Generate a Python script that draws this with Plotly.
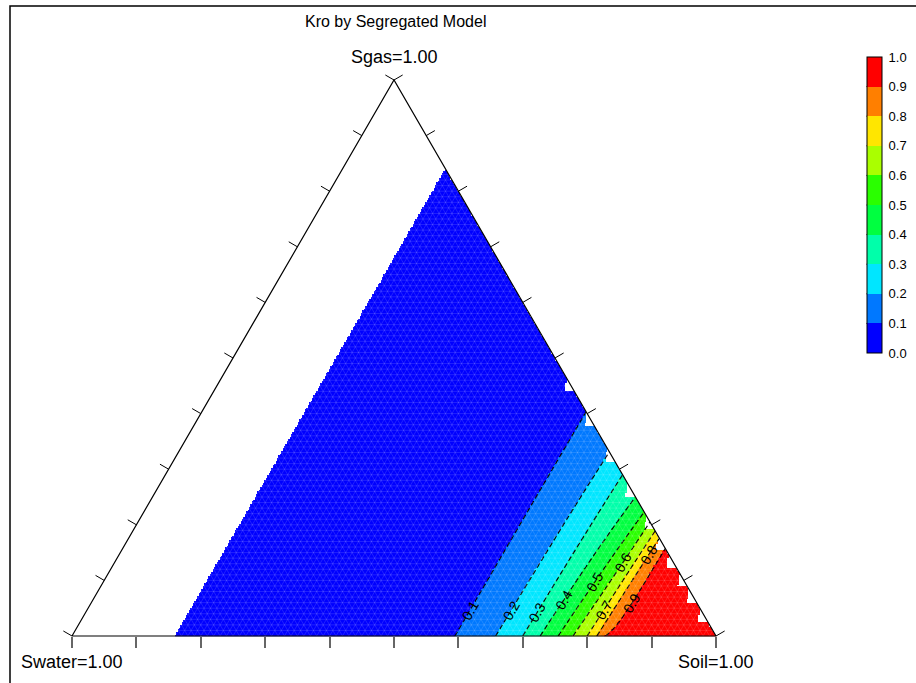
import numpy as np
import plotly.graph_objects as go

TITLE = "Kro by Segregated Model"
LABEL_WATER = "Swater=1.00"
LABEL_OIL = "Soil=1.00"
LABEL_GAS = "Sgas=1.00"

# Oil relative permeability, oil-water system (Sg = 0): Soil -> Krow
SOIL_OW = [0.16, 0.40, 0.595, 0.658, 0.700, 0.727, 0.755, 0.778, 0.800, 0.815, 0.828, 1.00]
KROW = [0.00, 0.00, 0.10, 0.20, 0.30, 0.40, 0.50, 0.60, 0.70, 0.80, 0.90, 1.00]

# Oil relative permeability, oil-gas system (Sw = 0): Soil -> Krog
SOIL_OG = [0.16, 0.40, 0.597, 0.669, 0.710, 0.750, 0.777, 0.795, 0.811, 0.824, 0.842, 1.00]
KROG = [0.00, 0.00, 0.10, 0.20, 0.30, 0.40, 0.50, 0.60, 0.70, 0.80, 0.90, 1.00]

# lowest oil saturation carried in the saturation table
SOIL_MIN = 0.16

# contour levels and colour bands
LEVELS = [0.1, 0.2, 0.3, 0.4, 0.5, 0.6, 0.7, 0.8, 0.9]
BAND_COLORS = ["#0000ff", "#0078ff", "#00e6ff", "#00ffaa", "#00ff40",
               "#2aff00", "#aaff00", "#ffe600", "#ff7f00", "#ff0000"]
CBAR_TICKS = [0.0, 0.1, 0.2, 0.3, 0.4, 0.5, 0.6, 0.7, 0.8, 0.9, 1.0]
AXIS_TICKS = [0.0, 0.1, 0.2, 0.3, 0.4, 0.5, 0.6, 0.7, 0.8, 0.9, 1.0]

# gas saturation at which each contour label sits
LABEL_SG = [0.047, 0.047, 0.043, 0.065, 0.097, 0.133, 0.047, 0.146, 0.059]

# uncovered triangles of the triangulation along the Sw = 0 side (base Sg)
EDGE_GAPS_SG = [0.439, 0.376, 0.313, 0.250, 0.191, 0.155, 0.122, 0.088, 0.059, 0.025]
GAP_HEIGHT = 0.024
GAP_DEPTH = 0.015

FONT = "Liberation Sans, Arial, sans-serif"
W, H = 916, 683
# pixel placement of the triangle: Swater vertex, Soil vertex, apex
PX_LEFT, PX_RIGHT, PX_BASE, PX_APEX = 72.0, 716.0, 636.0, 80.0
SX = PX_RIGHT - PX_LEFT          # px per unit of x
SY = PX_BASE - PX_APEX           # px per unit of Sg
# colour bar box in pixels
CB_X0, CB_X1, CB_TOP, CB_BOT = 866.5, 881.5, 57.0, 353.0


def to_xy(so, sg):
    """Ternary (Soil, Sgas) -> plot coordinates."""
    return so + 0.5 * sg, sg


def kro_segregated(so, sg, sw):
    krow = np.interp(so, SOIL_OW, KROW)
    krog = np.interp(so, SOIL_OG, KROG)
    den = sg + sw
    safe = np.where(den > 1e-12, den, 1.0)
    return np.where(den > 1e-12, (sg * krog + sw * krow) / safe, 1.0)


# ---- grid in plot coordinates ----
NX, NY = 461, 400
xs = np.linspace(0.0, 1.0, NX)
ys = np.linspace(0.0, 1.0, NY)
X, Y = np.meshgrid(xs, ys)
SG = Y
SO = X - 0.5 * Y
SW = 1.0 - SO - SG

z_full = kro_segregated(np.clip(SO, 0, 1), np.clip(SG, 0, 1), np.clip(SW, 0, 1))

gap = np.zeros_like(SG)
for b in EDGE_GAPS_SG:
    inrow = (SG >= b) & (SG < b + GAP_HEIGHT)
    gap = np.where(inrow, GAP_DEPTH * (1 - (SG - b) / GAP_HEIGHT), gap)
inside = (SO >= SOIL_MIN) & (SW >= gap) & (SG >= 0)
z_fill = np.where(inside, z_full, np.nan)

colorscale = []
for i, c in enumerate(BAND_COLORS):
    colorscale.append([i / 10, c])
    colorscale.append([(i + 1) / 10, c])

fig = go.Figure()

fig.add_trace(go.Heatmap(
    x=xs, y=ys, z=z_fill, zmin=0, zmax=1, colorscale=colorscale,
    hoverinfo="skip",
    colorbar=dict(
        x=CB_X0 / W, xanchor="left", y=1 - (CB_TOP + CB_BOT) / 2 / H, yanchor="middle",
        thickness=CB_X1 - CB_X0, thicknessmode="pixels",
        len=CB_BOT - CB_TOP, lenmode="pixels",
        xpad=0, ypad=0, outlinewidth=1, outlinecolor="black",
        tickmode="array", tickvals=CBAR_TICKS,
        ticktext=[f"{v:.1f}" for v in CBAR_TICKS],
        ticks="outside", ticklen=4, tickcolor="rgba(0,0,0,0)",
        tickfont=dict(family=FONT, size=13, color="black"),
    ),
))

# faint triangulation mesh over the filled area
step = 0.01
mx, my = [], []
for g in np.arange(0, 1 - SOIL_MIN, step):       # constant Sgas
    for so, sg in ((SOIL_MIN, g), (1 - g, g)):
        x, y = to_xy(so, sg); mx.append(x); my.append(y)
    mx.append(None); my.append(None)
for o in np.arange(SOIL_MIN, 1.0, step):          # constant Soil
    for so, sg in ((o, 0), (o, 1 - o)):
        x, y = to_xy(so, sg); mx.append(x); my.append(y)
    mx.append(None); my.append(None)
for w in np.arange(0, 1 - SOIL_MIN, step):        # constant Swater
    for so, sg in ((SOIL_MIN, 1 - w - SOIL_MIN), (1 - w, 0)):
        x, y = to_xy(so, sg); mx.append(x); my.append(y)
    mx.append(None); my.append(None)
fig.add_trace(go.Scatter(x=mx, y=my, mode="lines", hoverinfo="skip",
                         line=dict(color="rgba(255,255,255,0.16)", width=0.8),
                         showlegend=False))

fig.add_trace(go.Contour(
    x=xs, y=ys, z=z_full, showscale=False, hoverinfo="skip",
    contours=dict(start=LEVELS[0], end=LEVELS[-1], size=0.1, coloring="none",
                  showlabels=False),
    line=dict(color="black", width=1.2, dash="5px,3px"),
))

# blank out lines beyond the Sw = 0 side
fig.add_trace(go.Scatter(x=[1.0, 0.5, 0.5, 1.05, 1.05, 1.0], y=[0.0, 1.0, 1.05, 1.05, 0.0, 0.0],
                         mode="lines", fill="toself", fillcolor="white",
                         line=dict(width=0, color="white"), hoverinfo="skip", showlegend=False))

# triangle outline
vx, vy = zip(*[to_xy(0, 0), to_xy(1, 0), to_xy(0, 1), to_xy(0, 0)])
fig.add_trace(go.Scatter(x=vx, y=vy, mode="lines", line=dict(color="black", width=1.2),
                         hoverinfo="skip", showlegend=False))

# ticks on the two slanted sides, pointing outward
tlen = 10.0
nlx, nly = -0.865, 0.501   # outward normal of the left side (px, y up)
tx, ty = [], []
for f in AXIS_TICKS:
    x, y = to_xy(0, f)
    tx += [x, x + nlx * tlen / SX, None]; ty += [y, y + nly * tlen / SY, None]
    x, y = to_xy(1 - f, f)
    tx += [x, x - nlx * tlen / SX, None]; ty += [y, y + nly * tlen / SY, None]
fig.add_trace(go.Scatter(x=tx, y=ty, mode="lines", line=dict(color="black", width=1),
                         hoverinfo="skip", showlegend=False))

# contour labels
ann = []
so_line = np.linspace(SOIL_MIN, 1.0, 4000)
for lev, g in zip(LEVELS, LABEL_SG):
    sw_line = np.clip(1 - so_line - g, 0, 1)
    k = kro_segregated(so_line, np.full_like(so_line, g), sw_line)
    so_at = float(np.interp(lev, k, so_line))
    x, y = to_xy(so_at, g)
    ann.append(dict(x=x, y=y, xref="x", yref="y", text=f"{lev:.1f}", showarrow=False,
                    textangle=-60, font=dict(family=FONT, size=14, color="black")))

x, y = to_xy(0, 1)
ann.append(dict(x=x, y=y, xref="x", yref="y", text=LABEL_GAS, showarrow=False,
                yshift=23, font=dict(family=FONT, size=18, color="black")))
x, y = to_xy(0, 0)
ann.append(dict(x=x, y=y, xref="x", yref="y", text=LABEL_WATER, showarrow=False,
                yshift=-26, font=dict(family=FONT, size=18, color="black")))
x, y = to_xy(1, 0)
ann.append(dict(x=x, y=y, xref="x", yref="y", text=LABEL_OIL, showarrow=False,
                yshift=-26, font=dict(family=FONT, size=18, color="black")))
ann.append(dict(x=395 / W, y=1 - 22 / H, xref="paper", yref="paper", text=TITLE,
                xanchor="center", yanchor="middle",
                showarrow=False, font=dict(family=FONT, size=16, color="black")))

# separators between the colour bar boxes
shapes = [dict(type="rect", xref="paper", yref="paper",
               x0=10 / W, x1=1.2, y0=-0.2, y1=1 - 6 / H,
               line=dict(color="black", width=1.5))]
for v in CBAR_TICKS[1:-1]:
    py = CB_BOT - v * (CB_BOT - CB_TOP)
    shapes.append(dict(type="line", xref="paper", yref="paper",
                       x0=CB_X0 / W, x1=CB_X1 / W, y0=1 - py / H, y1=1 - py / H,
                       line=dict(color="black", width=1)))

fig.update_layout(
    width=W, height=H, margin=dict(l=0, r=0, t=0, b=0),
    paper_bgcolor="white", plot_bgcolor="white", showlegend=False,
    annotations=ann, shapes=shapes,
    xaxis=dict(range=[-PX_LEFT / SX, (W - PX_LEFT) / SX], domain=[0, 1],
               anchor="free", position=(H - PX_BASE) / H,
               showgrid=False, zeroline=False, showline=False, showticklabels=False,
               tickmode="array", tickvals=AXIS_TICKS, ticks="outside",
               ticklen=11, tickwidth=2, tickcolor="#666666"),
    yaxis=dict(range=[-(H - PX_BASE) / SY, PX_BASE / SY], domain=[0, 1],
               showgrid=False, zeroline=False, showline=False, showticklabels=False,
               ticks=""),
)

fig.write_html("out.html")
